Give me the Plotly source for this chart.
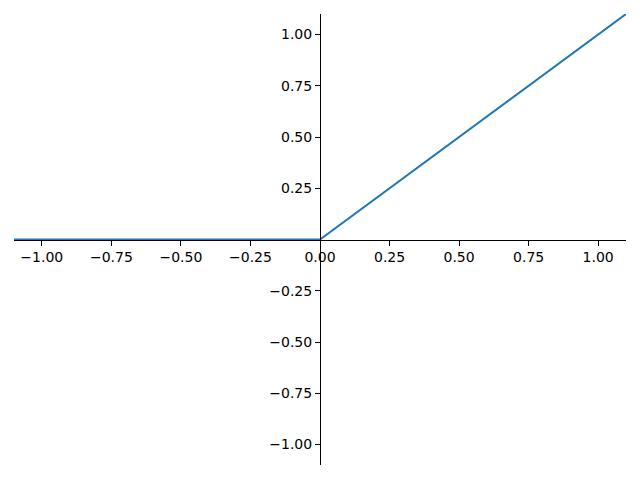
import plotly.graph_objects as go

x_vals = [-1.1, 0.0, 1.1]
y_vals = [0.0, 0.0, 1.1]
x_ticks = [-1.0, -0.75, -0.5, -0.25, 0.0, 0.25, 0.5, 0.75, 1.0]
y_ticks = [-1.0, -0.75, -0.5, -0.25, 0.25, 0.5, 0.75, 1.0]

fig = go.Figure()
fig.add_trace(go.Scatter(x=x_vals, y=y_vals, mode="lines",
                         line=dict(color="#1f77b4", width=2), showlegend=False))

axis_common = dict(
    showgrid=False, zeroline=False, showline=True, linecolor="black", linewidth=1,
    ticks="outside", ticklen=5, tickwidth=1, tickcolor="black",
    tickformat=".2f", tickfont=dict(family="DejaVu Sans", size=14, color="black"),
    anchor="free", position=0.5, fixedrange=True,
)
fig.update_xaxes(range=[-1.1, 1.1], tickvals=x_ticks, side="bottom", **axis_common)
fig.update_yaxes(range=[-1.1, 1.1], tickvals=y_ticks, side="left", **axis_common)

# page body has an 8px margin, so the figure is sized to fit the 640x480 window
fig.update_layout(
    width=624, height=464,
    margin=dict(l=6, r=6, t=6, b=7, autoexpand=False),
    plot_bgcolor="white", paper_bgcolor="white",
    font=dict(family="DejaVu Sans", size=14, color="black"),
)
fig.write_html("out.html")
